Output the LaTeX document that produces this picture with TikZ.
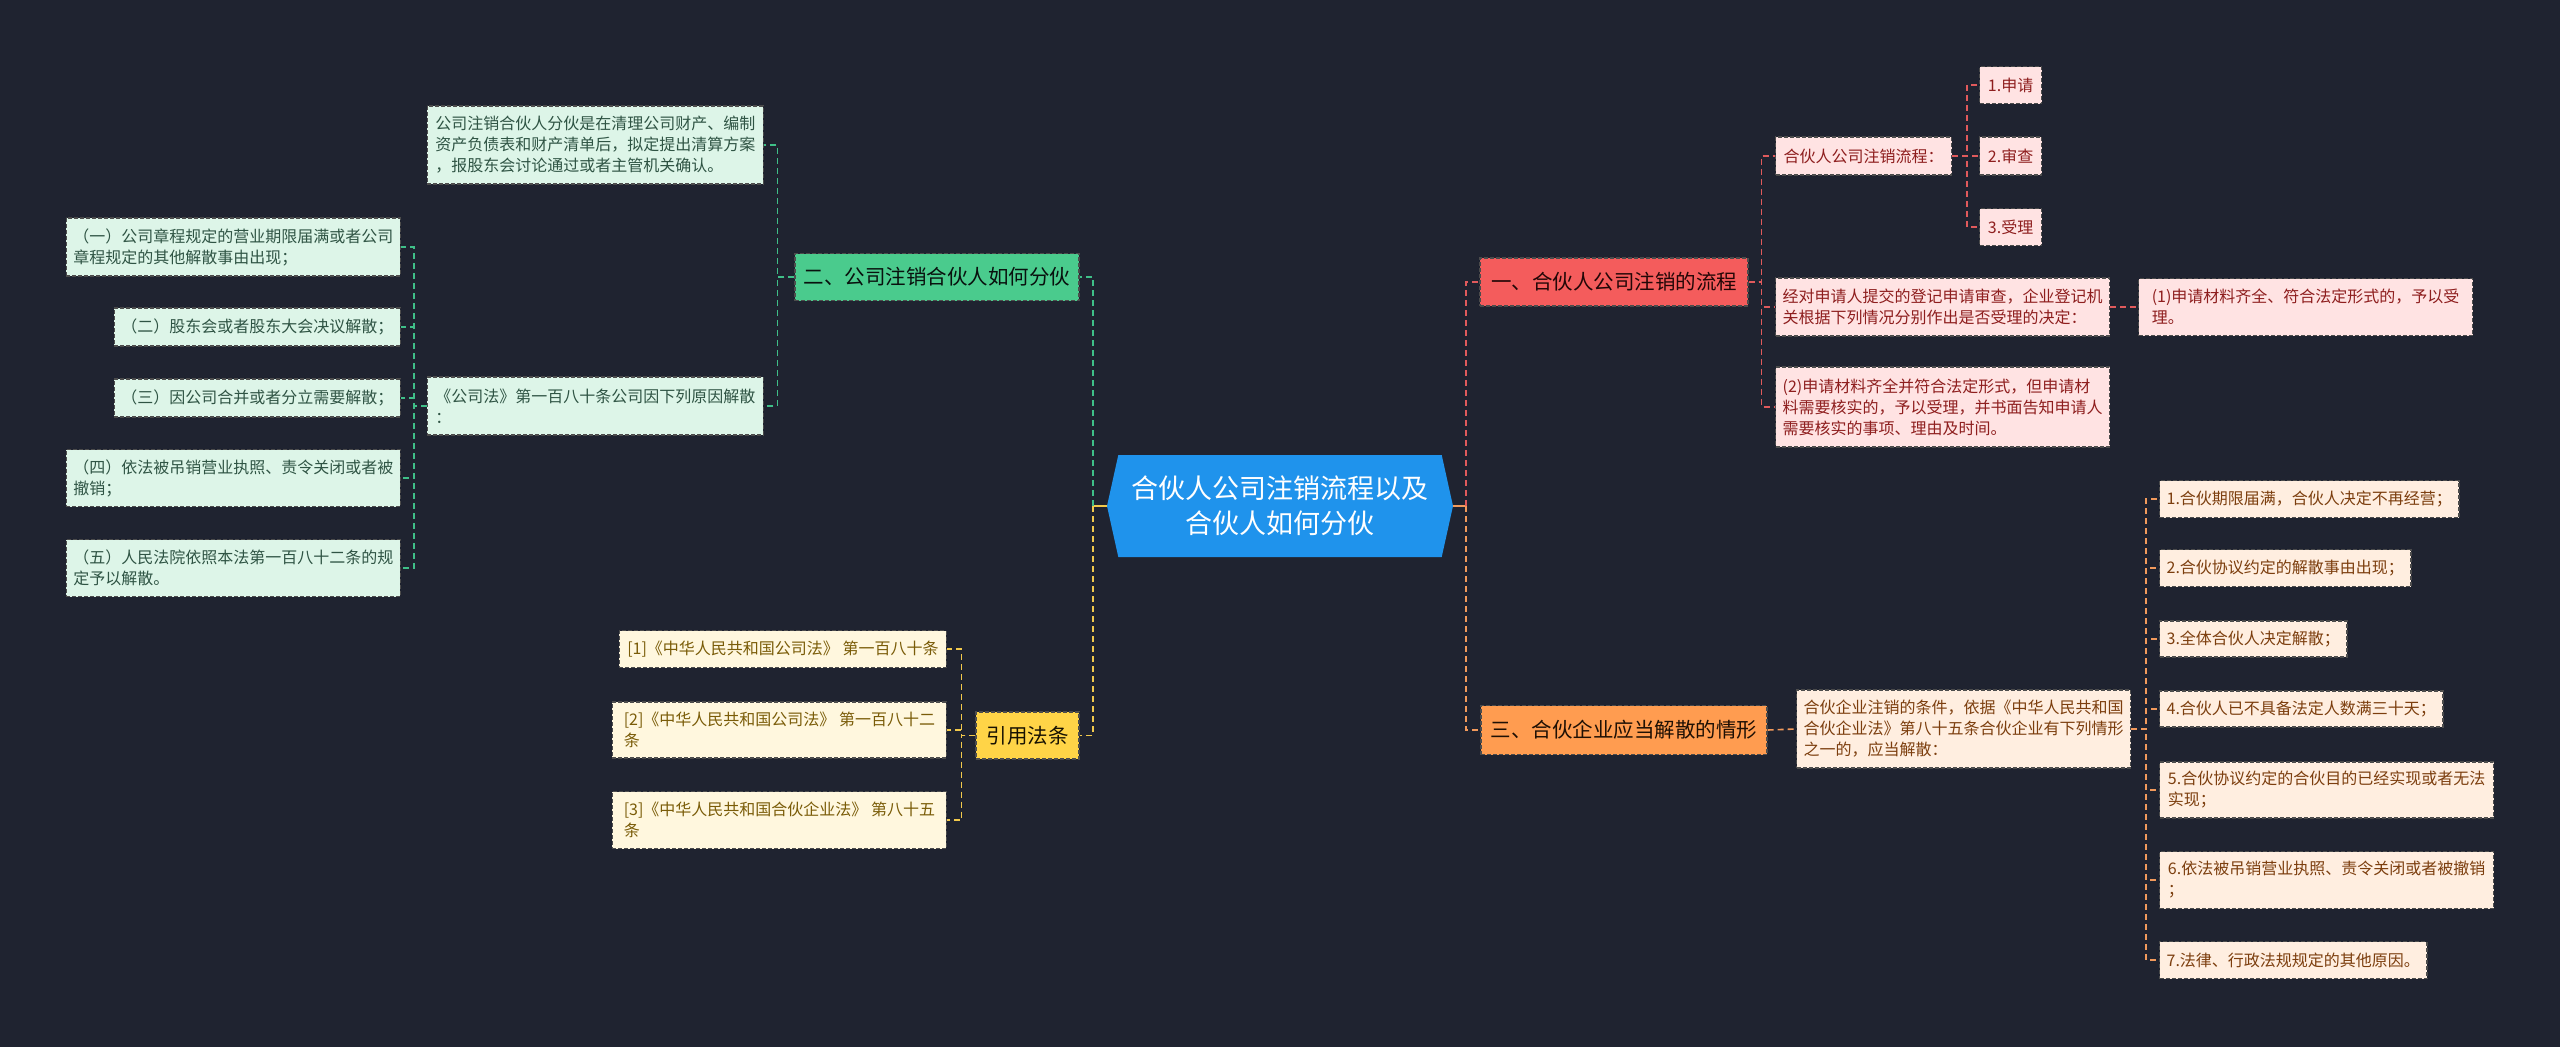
\documentclass[tikz,border=0pt]{standalone}
\usepackage{fontspec}
\setmainfont{Noto Sans CJK SC}
\usepackage{xcolor}
\usepackage{tikz}
\usetikzlibrary{shapes.symbols}

\definecolor{bgcol}{HTML}{1F2330}
\definecolor{rootcol}{HTML}{1F93EC}
\definecolor{gtop}{HTML}{4ACB8D}
\definecolor{gleafcol}{HTML}{DDF5E8}
\definecolor{gtext}{HTML}{2F5444}
\definecolor{gline}{HTML}{3FBF88}
\definecolor{ytop}{HTML}{FFD447}
\definecolor{yleafcol}{HTML}{FFF7DE}
\definecolor{ytext}{HTML}{7A5C08}
\definecolor{yline}{HTML}{F2C94C}
\definecolor{rtop}{HTML}{F45C5C}
\definecolor{rleafcol}{HTML}{FFE3E3}
\definecolor{rtext}{HTML}{8E1E1E}
\definecolor{rline}{HTML}{E05A5C}
\definecolor{otop}{HTML}{FF9C50}
\definecolor{oleafcol}{HTML}{FFEEE0}
\definecolor{otext}{HTML}{7C3E0E}
\definecolor{oline}{HTML}{F29A5C}

\begin{document}
\begin{tikzpicture}[x=1pt,y=-1pt,
    box/.style={rectangle, draw=black!70, line width=1.2pt, dash pattern=on 4pt off 2pt,
      inner xsep=7pt, inner ysep=0pt, align=left, font=\fontsize{16}{21}\selectfont},
    topic/.style={box, inner xsep=8pt, font=\fontsize{20.5}{24}\selectfont},
    gtopic/.style={topic, fill=gtop, text=black!80!gtext},
    gleaf/.style={box, fill=gleafcol, text=gtext},
    ytopic/.style={topic, fill=ytop, text=black!80!ytext},
    yleaf/.style={box, fill=yleafcol, text=ytext},
    rtopic/.style={topic, fill=rtop, text=black!75!rtext},
    rleaf/.style={box, fill=rleafcol, text=rtext},
    otopic/.style={topic, fill=otop, text=black!75!otext},
    oleaf/.style={box, fill=oleafcol, text=otext},
    glink/.style={draw=gline, line width=1.6pt, dash pattern=on 6pt off 4pt},
    ylink/.style={draw=yline, line width=1.6pt, dash pattern=on 6pt off 4pt},
    rlink/.style={draw=rline, line width=1.6pt, dash pattern=on 6pt off 4pt},
    olink/.style={draw=oline, line width=1.6pt, dash pattern=on 6pt off 4pt}]

    % Background
    \fill[bgcol] (0,0) rectangle (2560,1047);

    % Centre
    \node[shape=signal, signal to=west and east, signal pointer angle=155, fill=rootcol,
      text=white, minimum width=346pt, minimum height=102pt, inner sep=0pt, align=center,
      font=\fontsize{27}{35}\selectfont] (root) at (1280,506) {合伙人公司注销流程以及\\合伙人如何分伙};

    % Branch two (green)
    \node[gtopic, minimum width=284pt, minimum height=47pt] (g) at (937,277) {二、公司注销合伙人如何分伙};
    \node[gleaf, anchor=east, minimum width=336pt, minimum height=78pt] (g1) at (764,145)
      {公司注销合伙人分伙是在清理公司财产、编制\\资产负债表和财产清单后，拟定提出清算方案\\，报股东会讨论通过或者主管机关确认。};
    \node[gleaf, anchor=east, minimum width=336pt, minimum height=58pt] (g2) at (764,406)
      {《公司法》第一百八十条公司因下列原因解散\\：};
    \node[gleaf, anchor=east, minimum width=334pt, minimum height=58pt] (g21) at (401,247)
      {（一）公司章程规定的营业期限届满或者公司\\章程规定的其他解散事由出现；};
    \node[gleaf, anchor=east, minimum width=286pt, minimum height=38pt] (g22) at (401,327)
      {（二）股东会或者股东大会决议解散；};
    \node[gleaf, anchor=east, minimum width=286pt, minimum height=38pt] (g23) at (401,398)
      {（三）因公司合并或者分立需要解散；};
    \node[gleaf, anchor=east, minimum width=334pt, minimum height=57pt] (g24) at (401,478)
      {（四）依法被吊销营业执照、责令关闭或者被\\撤销；};
    \node[gleaf, anchor=east, minimum width=334pt, minimum height=57pt] (g25) at (401,568)
      {（五）人民法院依照本法第一百八十二条的规\\定予以解散。};

    % Cited laws (yellow)
    \node[ytopic, minimum width=103pt, minimum height=47pt] (y) at (1027.5,735.5) {引用法条};
    \node[yleaf, anchor=east, minimum width=327pt, minimum height=37pt] (y1) at (947,649)
      {[1]《中华人民共和国公司法》 第一百八十条};
    \node[yleaf, anchor=east, minimum width=334pt, minimum height=56pt] (y2) at (947,730)
      {[2]《中华人民共和国公司法》 第一百八十二\\条};
    \node[yleaf, anchor=east, minimum width=334pt, minimum height=57pt] (y3) at (947,820)
      {[3]《中华人民共和国合伙企业法》 第八十五\\条};

    % Branch one (red)
    \node[rtopic, minimum width=268pt, minimum height=48pt] (r) at (1614,282) {一、合伙人公司注销的流程};
    \node[rleaf, anchor=west, minimum width=176pt, minimum height=38pt] (r1) at (1775,156) {合伙人公司注销流程：};
    \node[rleaf, anchor=west, minimum width=62pt, minimum height=37pt] (r11) at (1979,85) {1.申请};
    \node[rleaf, anchor=west, minimum width=62pt, minimum height=38pt] (r12) at (1979,156) {2.审查};
    \node[rleaf, anchor=west, minimum width=62pt, minimum height=37pt] (r13) at (1979,227) {3.受理};
    \node[rleaf, anchor=west, minimum width=334pt, minimum height=58pt] (r2) at (1775,307)
      {经对申请人提交的登记申请审查，企业登记机\\关根据下列情况分别作出是否受理的决定：};
    \node[rleaf, anchor=west, minimum width=334pt, minimum height=57pt] (r21) at (2138,307)
      {(1)申请材料齐全、符合法定形式的，予以受\\理。};
    \node[rleaf, anchor=west, minimum width=332pt, minimum height=80pt] (r3) at (1775,407)
      {(2)申请材料齐全并符合法定形式，但申请材\\料需要核实的，予以受理，并书面告知申请人\\需要核实的事项、理由及时间。};

    % Branch three (orange)
    \node[otopic, minimum width=286pt, minimum height=49pt] (o) at (1624,730) {三、合伙企业应当解散的情形};
    \node[oleaf, anchor=west, minimum width=334pt, minimum height=78pt] (o1) at (1796,729)
      {合伙企业注销的条件，依据《中华人民共和国\\合伙企业法》第八十五条合伙企业有下列情形\\之一的，应当解散：};
    \node[oleaf, anchor=west, minimum width=299pt, minimum height=37pt] (o11) at (2159,499) {1.合伙期限届满，合伙人决定不再经营；};
    \node[oleaf, anchor=west, minimum width=251pt, minimum height=37pt] (o12) at (2159,568) {2.合伙协议约定的解散事由出现；};
    \node[oleaf, anchor=west, minimum width=187pt, minimum height=36pt] (o13) at (2159,639) {3.全体合伙人决定解散；};
    \node[oleaf, anchor=west, minimum width=282pt, minimum height=36pt] (o14) at (2159,709) {4.合伙人已不具备法定人数满三十天；};
    \node[oleaf, anchor=west, minimum width=334pt, minimum height=56pt] (o15) at (2159,790)
      {5.合伙协议约定的合伙目的已经实现或者无法\\实现；};
    \node[oleaf, anchor=west, minimum width=334pt, minimum height=57pt] (o16) at (2159,880)
      {6.依法被吊销营业执照、责令关闭或者被撤销\\；};
    \node[oleaf, anchor=west, minimum width=267pt, minimum height=37pt] (o17) at (2159,960) {7.法律、行政法规规定的其他原因。};

    % Links from the centre
    \draw[ylink, solid] (root.west) -- ++(-14,0) coordinate (lj);
    \draw[glink] (lj) |- (g.east);
    \draw[ylink] (lj) |- (y.east);
    \draw[olink, solid] (root.east) -- ++(13,0) coordinate (rj);
    \draw[rlink] (rj) |- (r.west);
    \draw[olink] (rj) |- (o.west);

    % Green links
    \draw[glink] (g.west) -- ++(-17,0) |- (g1.east);
    \draw[glink] (g.west) -- ++(-17,0) |- (g2.east);
    \draw[glink] (g2.west) -- ++(-13,0) |- (g21.east);
    \draw[glink] (g2.west) -- ++(-13,0) |- (g22.east);
    \draw[glink] (g2.west) -- ++(-13,0) |- (g23.east);
    \draw[glink] (g2.west) -- ++(-13,0) |- (g24.east);
    \draw[glink] (g2.west) -- ++(-13,0) |- (g25.east);

    % Yellow links
    \draw[ylink] (y.west) -- ++(-14,0) |- (y1.east);
    \draw[ylink] (y.west) -- ++(-14,0) |- (y2.east);
    \draw[ylink] (y.west) -- ++(-14,0) |- (y3.east);

    % Red links
    \draw[rlink] (r.east) -- ++(13,0) |- (r1.west);
    \draw[rlink] (r.east) -- ++(13,0) |- (r2.west);
    \draw[rlink] (r.east) -- ++(13,0) |- (r3.west);
    \draw[rlink] (r1.east) -- ++(15,0) |- (r11.west);
    \draw[rlink] (r1.east) -- (r12.west);
    \draw[rlink] (r1.east) -- ++(15,0) |- (r13.west);
    \draw[rlink] (r2.east) -- (r21.west);

    % Orange links
    \draw[olink] (o.east) -- (o1.west);
    \draw[olink] (o1.east) -- ++(15,0) |- (o11.west);
    \draw[olink] (o1.east) -- ++(15,0) |- (o12.west);
    \draw[olink] (o1.east) -- ++(15,0) |- (o13.west);
    \draw[olink] (o1.east) -- ++(15,0) |- (o14.west);
    \draw[olink] (o1.east) -- ++(15,0) |- (o15.west);
    \draw[olink] (o1.east) -- ++(15,0) |- (o16.west);
    \draw[olink] (o1.east) -- ++(15,0) |- (o17.west);
\end{tikzpicture}
\end{document}
